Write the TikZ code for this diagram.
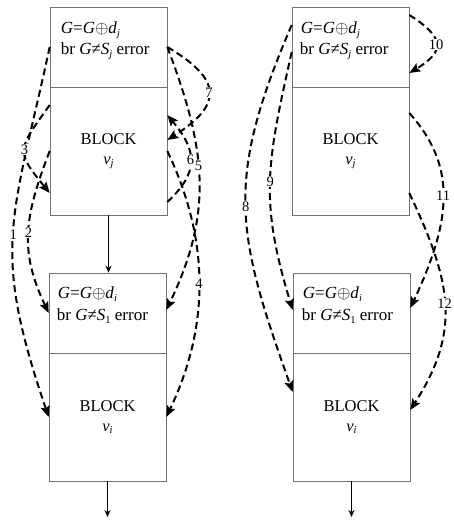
\documentclass[tikz,border=0pt]{standalone}
\usepackage{fontspec}
\setmainfont{Liberation Serif}
\usetikzlibrary{arrows.meta,calc}
\newcommand{\lowsub}[1]{\raisebox{-0.35ex}{\fontsize{10.5}{10.5}\selectfont #1}}
\begin{document}
\begin{tikzpicture}[x=1pt,y=-1pt,
 box/.style={draw=black!55, line width=0.6pt, minimum width=117pt, inner sep=0pt},
 topbox/.style={box, minimum height=80pt},
 blockbox/.style={box, minimum height=128pt},
 txt/.style={anchor=base west, inner sep=0pt, font=\fontsize{17}{20}\selectfont},
 blk/.style={align=center, inner sep=0pt, font=\fontsize{16.5}{20}\selectfont},
 dflow/.style={line width=2pt, dash pattern=on 7pt off 4pt, -{Stealth[length=11pt,width=9pt,inset=2pt]}},
 num/.style={fill=white, inner sep=0.8pt, font=\fontsize{14.5}{14.5}\selectfont},
 flow/.style={line width=0.9pt, -{Stealth[length=7pt,width=6pt]}}]
\useasboundingbox (0,0) rectangle (454,522);
% left column
\node[topbox] (tjL) at (108.5,47) {};
\node[blockbox] (bjL) at (108.5,151) {};
\node[topbox] (tiL) at (107.5,313) {};
\node[blockbox] (biL) at (107.5,417) {};
% right column
\node[topbox] (tjR) at (350.5,47) {};
\node[blockbox] (bjR) at (350.5,151) {};
\node[topbox] (tiR) at (351.5,313) {};
\node[blockbox] (biR) at (351.5,417) {};
% texts
\node[txt] (tjLa) at ([xshift=11pt,yshift=-27pt]tjL.north west) {\textit{G}=\textit{G}$\oplus$\textit{d}\lowsub{\textit{j}}};
\node[txt] (tjLb) at ([xshift=11pt,yshift=-48pt]tjL.north west) {br \textit{G}≠\textit{S}\lowsub{\textit{j}} error};
\node[txt] (tiLa) at ([xshift=9pt,yshift=-26pt]tiL.north west) {\textit{G}=\textit{G}$\oplus$\textit{d}\lowsub{\textit{i}}};
\node[txt] (tiLb) at ([xshift=8pt,yshift=-48pt]tiL.north west) {br \textit{G}≠\textit{S}\lowsub{1} error};
\node[txt] (tjRa) at ([xshift=9pt,yshift=-27pt]tjR.north west) {\textit{G}=\textit{G}$\oplus$\textit{d}\lowsub{\textit{j}}};
\node[txt] (tjRb) at ([xshift=8pt,yshift=-48pt]tjR.north west) {br \textit{G}≠\textit{S}\lowsub{\textit{j}} error};
\node[txt] (tiRa) at ([xshift=10pt,yshift=-26pt]tiR.north west) {\textit{G}=\textit{G}$\oplus$\textit{d}\lowsub{\textit{i}}};
\node[txt] (tiRb) at ([xshift=9pt,yshift=-48pt]tiR.north west) {br \textit{G}≠\textit{S}\lowsub{1} error};
\node[blk] (bjLt) at (bjL.center) {BLOCK\\\textit{v}\lowsub{\textit{j}}};
\node[blk] (biLt) at (biL.center) {BLOCK\\\textit{v}\lowsub{\textit{i}}};
\node[blk] (bjRt) at (bjR.center) {BLOCK\\\textit{v}\lowsub{\textit{j}}};
\node[blk] (biRt) at (biR.center) {BLOCK\\\textit{v}\lowsub{\textit{i}}};
% solid flow
\coordinate (outL) at (107.5,517);
\coordinate (outR) at (351.5,517);
\draw[flow] (bjL.south) -- (bjL.south |- tiL.north);
\draw[flow] (biL.south) -- (outL);
\draw[flow] (biR.south) -- (outR);
% dashed connectors left
\draw[dflow] (tjL.west) .. controls +(-38,176) and +(-58,-170) .. node[num]{1} (biL.west);
\draw[dflow] (bjL.west) .. controls +(-25,65) and +(-30,-63) .. node[num]{2} (tiL.west);
\draw[dflow] ([yshift=46pt]bjL.west) .. controls +(-32,45) and +(-35,-43) .. node[num]{3} ([yshift=-42pt]bjL.west);
\draw[dflow] (tjL.east) .. controls +(56,33) and +(55,-35) .. node[num]{7} ([yshift=11pt]bjL.east);
\draw[dflow] ([yshift=-51pt]bjL.east) .. controls +(33,-30.5) and +(29,34.6) .. node[num]{6} ([yshift=36pt]bjL.east);
\draw[dflow] (tjL.east) .. controls +(38,100) and +(48,-100) .. node[num,pos=0.45]{5} ([yshift=3pt]tiL.east);
\draw[dflow] (bjL.east) .. controls +(43,90) and +(43,-90) .. node[num]{4} (biL.east);
% dashed connectors right
\draw[dflow] ([yshift=22pt]tjR.west) .. controls +(-67,156) and +(-57,-160) .. node[num]{8} ([yshift=25pt]biR.west);
\draw[dflow] ([yshift=-5pt]tjR.west) .. controls +(-25,112) and +(-33.5,-110) .. node[num]{9} ([yshift=3pt]tiR.west);
\draw[dflow] ([yshift=32pt]tjR.east) .. controls +(35.5,22.4) and +(36,-21.6) .. node[num]{10} ([yshift=-26pt]tjR.east);
\draw[dflow] ([yshift=38pt]bjR.east) .. controls +(46.5,52) and +(42.6,-90.5) .. node[num]{11} ([yshift=5pt]tiR.east);
\draw[dflow] ([yshift=-42pt]bjR.east) .. controls +(41,87) and +(52,-80.5) .. node[num]{12} ([yshift=7pt]biR.east);
\end{tikzpicture}
\end{document}
